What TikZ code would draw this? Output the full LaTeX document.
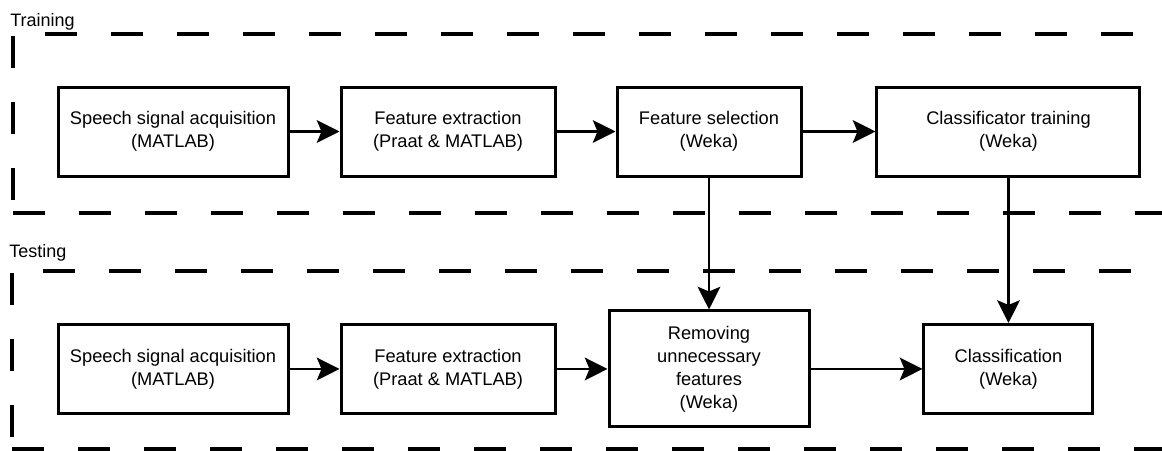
\documentclass[tikz,border=0pt]{standalone}
\usepackage{fontspec}
\setmainfont{Liberation Sans}
\usetikzlibrary{positioning, arrows.meta}

\begin{document}
\begin{tikzpicture}[
    x=0.75pt, y=-0.75pt,
    on grid,
    block/.style={draw, line width=2.25pt, minimum width=#1, minimum height=66.75pt,
        inner sep=0pt, align=center, font=\fontsize{13.7pt}{17.25pt}\selectfont},
    flow/.style={-{Stealth[length=17pt, width=17pt, inset=3.5pt]}, line width=2pt},
    frame/.style={line width=2.4pt, dash pattern=on 24pt off 25.5pt},
    region/.style={anchor=base west, inner sep=0pt, font=\fontsize{13.5pt}{16pt}\selectfont}
]
    \useasboundingbox (0,0) rectangle (1162,450);
    \clip (0,0) rectangle (1162,450);

    % Regions
    \node[region] (lbl_train) at (10,26) {Training};
    \node[region] (lbl_test) at (9,257) {Testing};
    \draw[frame, dash phase=25.5pt] (13,34) -- (1180,34);
    \draw[frame] (13,36) -- (13,213);
    \draw[frame] (13,213) -- (1180,213);
    \draw[frame, dash phase=26.25pt] (12,271) -- (1180,271);
    \draw[frame] (12,273) -- (12,449);
    \draw[frame] (12,449) -- (1180,449);

    % Training
    \node[block=172.5pt] (acq_train) at (173,131.5) {Speech signal acquisition\\(MATLAB)};
    \node[block=160.5pt, right=206.25pt of acq_train] (ext_train) {Feature extraction\\(Praat \& MATLAB)};
    \node[block=138pt, right=195.75pt of ext_train] (sel_train) {Feature selection\\(Weka)};
    \node[block=197.25pt, right=224.6pt of sel_train] (cls_train) {Classificator training\\(Weka)};

    % Testing
    \node[block=172.5pt, below=178.1pt of acq_train] (acq_test) {Speech signal acquisition\\(MATLAB)};
    \node[block=160.5pt, below=178.1pt of ext_train] (ext_test) {Feature extraction\\(Praat \& MATLAB)};
    \node[block=150pt, minimum height=87pt, below=178.1pt of sel_train] (rem_test) {Removing\\unnecessary\\features\\(Weka)};
    \node[block=126.75pt, below=178.1pt of cls_train] (cls_test) {Classification\\(Weka)};

    % Transitions
    \path[flow]
        (acq_train) edge (ext_train)
        (ext_train) edge (sel_train)
        (sel_train) edge (cls_train)
        (sel_train) edge (rem_test)
        (cls_train) edge (cls_test)
        (acq_test) edge (ext_test)
        (ext_test) edge (rem_test)
        (rem_test) edge (cls_test);
\end{tikzpicture}
\end{document}
